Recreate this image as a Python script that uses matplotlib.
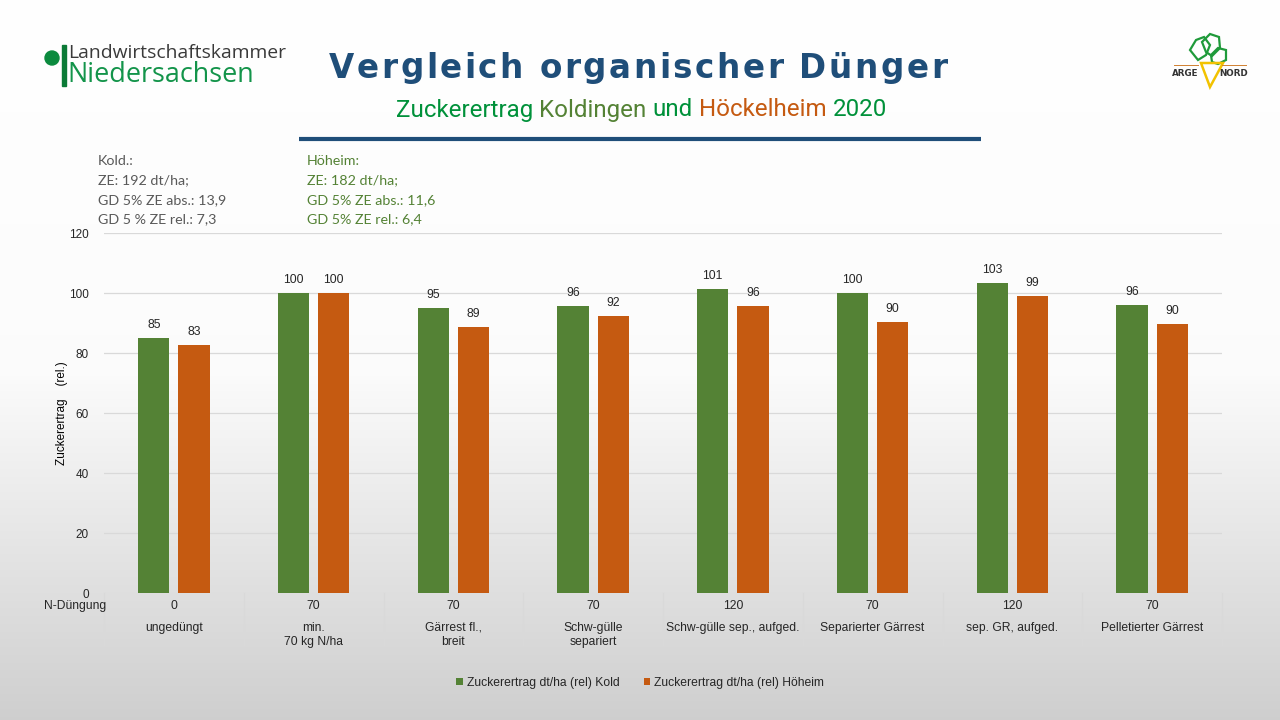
import matplotlib
matplotlib.use('Agg')
import matplotlib.pyplot as plt
import numpy as np
from matplotlib.font_manager import FontProperties
from matplotlib.transforms import blended_transform_factory
from matplotlib.patches import Circle, Rectangle, Polygon

# ---------------- data ----------------
n_duengung = ['0', '70', '70', '70', '120', '70', '120', '70']
categories = ['ungedüngt', 'min.\n70 kg N/ha', 'Gärrest fl.,\nbreit', 'Schw-gülle\nsepariert',
              'Schw-gülle sep., aufged.', 'Separierter Gärrest', 'sep. GR, aufged.',
              'Pelletierter Gärrest']
kold = [85.0, 100.0, 94.9, 95.6, 101.3, 99.9, 103.4, 96.1]
hoeheim = [82.7, 100.0, 88.8, 92.2, 95.7, 90.2, 98.9, 89.6]
series_names = ['Zuckerertrag dt/ha (rel) Kold', 'Zuckerertrag dt/ha (rel) Höheim']
y_ticks = [0, 20, 40, 60, 80, 100, 120]

kold_info = ['Kold.:', 'ZE: 192 dt/ha;', 'GD 5% ZE abs.: 13,9', 'GD 5 % ZE rel.: 7,3']
hoe_info = ['Höheim:', 'ZE: 182 dt/ha;', 'GD 5% ZE abs.: 11,6', 'GD 5% ZE rel.: 6,4']

GREEN = '#548235'
ORANGE = '#c55a11'
NAVY = '#1f4e79'
SUBGREEN = '#00913a'

W, H = 1280, 720
fig = plt.figure(figsize=(12.8, 7.2), dpi=100)
renderer = fig.canvas.get_renderer()

# background / overlay axes in pixel coords
bg = fig.add_axes([0, 0, 1, 1], zorder=0)
bg.set_xlim(0, W)
bg.set_ylim(H, 0)
bg.axis('off')
ys = np.arange(H, dtype=float)
v = np.where(ys < 370, 1.0 - 0.013 * ys / 370,
             0.987 - (0.987 - 0.81) * (ys - 370) / (H - 370))
grad = np.repeat(v[:, None], 2, axis=1)
bg.imshow(np.dstack([grad, grad, grad]), extent=[0, W, H, 0], aspect='auto', zorder=-10,
          interpolation='bilinear')


def text_width(s, fp):
    w, h, d = renderer.get_text_width_height_descent(s, fp, ismath=False)
    return w


def fit_fp(s, family, weight, target_w, base=12):
    fp = FontProperties(family=family, weight=weight, size=base)
    w = text_width(s, fp)
    return FontProperties(family=family, weight=weight, size=base * target_w / w)


# ---------- title with letter spacing ----------
title = 'Vergleich organischer Dünger'
tfp = FontProperties(family='DejaVu Sans', weight='bold', size=23.5)
space_w = text_width('a a', tfp) - text_width('aa', tfp)
widths = [space_w if c == ' ' else text_width(c, tfp) for c in title]
x0, x1 = 329, 947
spacing = ((x1 - x0) - sum(widths)) / (len(title) - 1)
x = x0
for c, w in zip(title, widths):
    if c != ' ':
        bg.text(x, 68, c, fontproperties=tfp, color=NAVY, ha='left', va='center')
    x += w + spacing

# ---------- subtitle, multi-coloured ----------
parts = [('Zuckerertrag ', SUBGREEN), ('Koldingen', GREEN), (' und ', SUBGREEN),
         ('Höckelheim', ORANGE), (' 2020', SUBGREEN)]
full = ''.join(p for p, _ in parts)
sfp = fit_fp(full, 'Roboto', 'normal', 489)
sp_w = text_width('a a', sfp) - text_width('aa', sfp)
x = 396
for p, col in parts:
    core = p.strip()
    x += sp_w * (len(p) - len(p.lstrip(' ')))
    bg.text(x, 110, core, fontproperties=sfp, color=col, ha='left', va='center')
    x += text_width(core, sfp)
    x += sp_w * (len(p) - len(p.rstrip(' ')))

bg.plot([299, 981], [139, 139], color=NAVY, lw=3, solid_capstyle='butt')

# ---------- logo left ----------
bg.add_patch(Circle((52, 58), 7, color='#0b8a3e', zorder=2))
bg.add_patch(Rectangle((61.5, 45), 4, 41, color='#0b7a36', zorder=2))
lfp = fit_fp('Landwirtschaftskammer', 'Open Sans', 'normal', 216)
bg.text(68, 53, 'Landwirtschaftskammer', fontproperties=lfp, color='#3a3a3a', ha='left', va='center')
nfp = fit_fp('Niedersachsen', 'Open Sans', 'normal', 186)
bg.text(67, 75, 'Niedersachsen', fontproperties=nfp, color='#13944a', ha='left', va='center')

# ---------- logo right (ARGE NORD) ----------
leaf_col = '#1f9a3a'
leaves = [
    [(1190, 50), (1196, 40), (1204, 37), (1210, 45), (1206, 55), (1198, 60)],
    [(1202, 42), (1210, 34), (1219, 37), (1220, 48), (1212, 56), (1206, 52)],
    [(1211, 55), (1218, 48), (1226, 50), (1226, 60), (1218, 64), (1212, 62)],
]
for lf in leaves:
    bg.add_patch(Polygon(lf, closed=True, fill=False, edgecolor=leaf_col, lw=1.6, zorder=2))
bg.add_patch(Polygon([(1201, 63), (1223, 63), (1210, 87)], closed=True, fill=False,
                     edgecolor='#f2c200', lw=1.8, zorder=2))
bg.plot([1174, 1198], [64.5, 64.5], color='#d08030', lw=0.7)
bg.plot([1222, 1246], [64.5, 64.5], color='#d08030', lw=0.7)
bg.text(1185, 74, 'ARGE', fontsize=6.3, fontweight='bold', color='#333333', ha='center', va='center',
        family='DejaVu Sans')
bg.text(1234, 74, 'NORD', fontsize=6.3, fontweight='bold', color='#333333', ha='center', va='center',
        family='DejaVu Sans')

# ---------- info texts ----------
ifp = fit_fp('GD 5% ZE abs.: 13,9', 'Lato', 'normal', 128)
for i, (a, b) in enumerate(zip(kold_info, hoe_info)):
    yy = 161 + i * 19.5
    bg.text(98, yy, a, fontproperties=ifp, color='#595959', ha='left', va='center')
    bg.text(307, yy, b, fontproperties=ifp, color=GREEN, ha='left', va='center')

# ---------- main chart ----------
left, right, top, bottom = 104, 1222, 233, 593
ax = fig.add_axes([left / W, 1 - bottom / H, (right - left) / W, (bottom - top) / H], zorder=1)
ax.patch.set_alpha(0)
ax.set_xlim(-0.5, len(categories) - 0.5)
ax.set_ylim(0, 120)
for s in ax.spines.values():
    s.set_visible(False)
ax.set_yticks(y_ticks)
ax.yaxis.grid(True, color='#d9d9d9', lw=0.9)
ax.set_axisbelow(True)
ax.tick_params(axis='y', length=0, pad=11, labelsize=8.5, labelcolor='#262626')
for lab in ax.get_yticklabels():
    lab.set_family('Liberation Sans')
ax.set_xticks([])

xs = np.arange(len(categories))
bw = 0.222
off = 0.144
b1 = ax.bar(xs - off, kold, bw, color=GREEN, label=series_names[0], zorder=2)
b2 = ax.bar(xs + off, hoeheim, bw, color=ORANGE, label=series_names[1], zorder=2)
for bars in (b1, b2):
    labs = ax.bar_label(bars, fmt='%.0f', padding=5, fontsize=8.7, color='#262626')
    for t in labs:
        t.set_family('Liberation Sans')

trans = blended_transform_factory(ax.transData, ax.transAxes)
ax.text(-0.5 - 42 / 139.75, 0.5, 'Zuckerertrag    (rel.)', transform=trans,
        rotation=90, ha='center', va='center', fontsize=8.5, family='Liberation Sans', color='#000000')

# table below axis
px = 1.0 / (bottom - top)
for i in range(len(categories) + 1):
    ax.plot([i - 0.5, i - 0.5], [0, -52 * px], transform=trans, color='#d9d9d9', lw=0.8,
            clip_on=False)
for i, (nd, cat) in enumerate(zip(n_duengung, categories)):
    ax.text(i, -13 * px, nd, transform=trans, ha='center', va='center', fontsize=8.7,
            family='Liberation Sans', color='#262626')
    ax.text(i, -29 * px, cat, transform=trans, ha='center', va='top', fontsize=8.7,
            family='Liberation Sans', color='#262626', linespacing=1.2)
ax.text(-0.5 + 2 / 139.75, -13 * px, 'N-Düngung', transform=trans, ha='right', va='center', fontsize=8.7,
        family='Liberation Sans', color='#262626')

leg = fig.legend(handles=[b1, b2], labels=series_names, loc='center', bbox_to_anchor=(0.5, 1 - 683 / H),
                 ncol=2, frameon=False, handlelength=0.55, handleheight=0.55,
                 handletextpad=0.3, columnspacing=2.0, prop={'family': 'Liberation Sans', 'size': 8.7})
for t in leg.get_texts():
    t.set_color('#262626')

fig.savefig('out.png', dpi=100)
